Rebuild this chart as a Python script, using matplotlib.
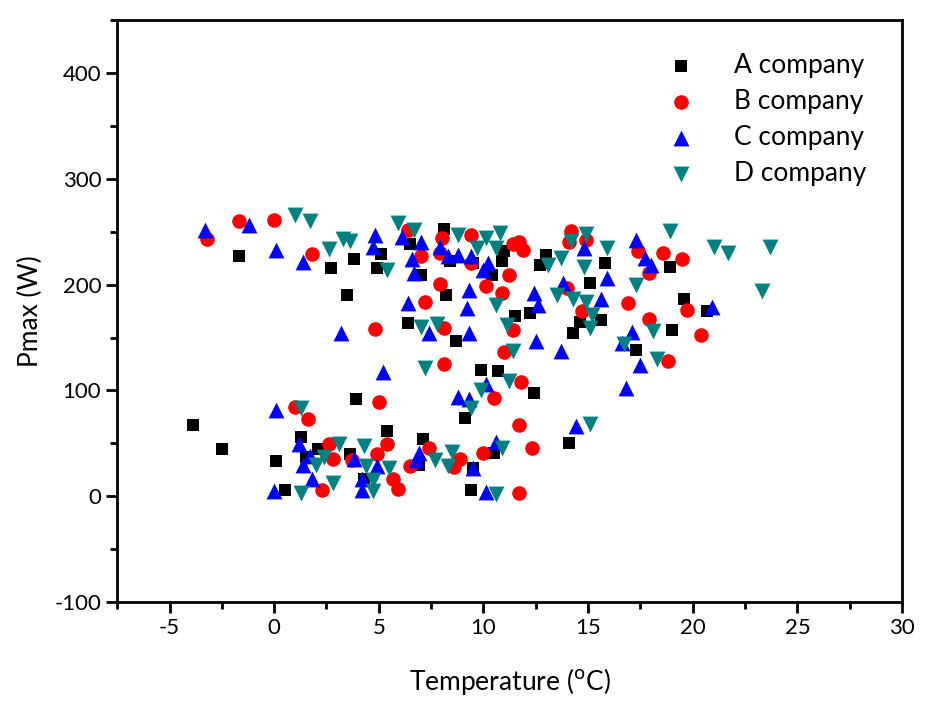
import matplotlib
matplotlib.use('Agg')
import matplotlib.pyplot as plt
from matplotlib.ticker import MultipleLocator

plt.rcParams['font.family'] = ['Lato', 'DejaVu Sans']
plt.rcParams['axes.unicode_minus'] = False

# A company (black squares)
a_temp = [-3.9, -2.5, 0.1, 0.5, 1.3, 1.5, 2.1, 3.6, 3.9, 4.3, 5.4, 7.1, 6.9, 9.1, 9.5,
          9.4, 10.5, 9.9, 10.7, 12.4, 14.1, 8.7, 6.4, 3.5, 8.2, 11.5, 12.2, 14.3, 14.6,
          15.6, 17.3, 19.0, 20.7, 19.6, 15.1, 15.8, 18.9, 12.7, 13.0, -1.7, 2.7, 3.8,
          4.9, 5.1, 6.5, 7.0, 8.1, 8.4, 9.5, 10.4, 10.9, 11.0]
a_pmax = [67, 45, 33, 6, 56, 37, 45, 40, 92, 16, 62, 54, 30, 74, 27,
          6, 41, 119, 118, 98, 50, 147, 164, 190, 190, 170, 173, 154, 165,
          167, 138, 157, 175, 186, 202, 220, 217, 219, 228, 227, 216, 224,
          216, 229, 238, 209, 253, 222, 220, 209, 222, 232]

# B company (red circles)
b_temp = [-3.2, -1.7, 0.0, 1.8, 1.0, 1.6, 2.6, 2.8, 2.3, 3.7, 4.9, 5.4, 5.0, 5.7, 5.9,
          6.5, 7.4, 8.6, 8.9, 10.0, 11.7, 12.3, 11.7, 10.5, 11.8, 11.0, 8.1, 4.8, 8.1,
          7.2, 7.9, 10.1, 10.9, 11.4, 11.2, 9.4, 7.0, 7.9, 6.4, 8.0, 9.4, 11.4, 11.7,
          11.9, 14.2, 14.1, 14.9, 14.0, 14.7, 16.9, 17.4, 17.9, 18.6, 19.5, 19.7, 17.9,
          18.8, 20.4]
b_pmax = [243, 260, 261, 229, 84, 73, 49, 35, 6, 34, 40, 49, 89, 16, 7,
          29, 46, 28, 35, 41, 3, 46, 67, 93, 108, 136, 125, 158, 159,
          184, 201, 199, 192, 157, 209, 220, 227, 230, 252, 244, 247, 238, 240,
          233, 251, 240, 242, 197, 175, 183, 232, 211, 230, 224, 176, 168,
          128, 152]

# C company (blue up-triangles)
c_temp = [-3.3, -1.2, 0.1, 1.4, 3.2, 0.1, 1.2, 1.7, 1.4, 1.8, 0.0, 3.8, 4.9, 4.2, 4.2,
          6.9, 6.8, 9.5, 10.1, 10.6, 8.8, 9.3, 10.1, 5.2, 9.3, 7.4, 6.4, 9.2, 9.3,
          12.4, 12.6, 12.5, 4.8, 4.7, 6.1, 7.0, 6.6, 6.7, 7.9, 8.3, 8.8, 9.4, 10.0,
          10.2, 13.8, 14.8, 15.9, 15.6, 17.3, 17.7, 18.0, 17.1, 16.6, 17.5, 16.8, 13.7,
          14.4, 20.9]
c_pmax = [252, 256, 233, 221, 154, 82, 49, 38, 30, 16, 5, 35, 29, 16, 6,
          41, 34, 27, 4, 51, 94, 92, 106, 117, 154, 154, 183, 178, 195,
          192, 181, 147, 247, 236, 245, 240, 224, 211, 236, 227, 228, 227, 214,
          220, 202, 235, 206, 186, 242, 225, 219, 155, 145, 124, 102, 137,
          66, 179]

# D company (teal down-triangles)
d_temp = [1.0, 1.7, 2.6, 3.3, 3.6, 5.4, 5.9, 6.7, 8.8, 9.7, 10.1, 10.8, 10.6, 13.1, 13.7,
          14.2, 14.9, 14.8, 15.9, 18.9, 21.0, 21.7, 23.7, 23.3, 17.3, 13.5, 14.3, 14.9,
          15.2, 15.1, 10.6, 11.1, 7.0, 7.8, 7.2, 11.4, 11.2, 9.9, 9.4, 16.7, 18.3, 18.1,
          15.1, 10.9, 1.3, 3.1, 2.4, 2.0, 2.8, 1.3, 4.3, 4.4, 5.5, 4.7, 4.7, 7.7, 8.5,
          8.3, 10.6]
d_pmax = [266, 260, 234, 243, 241, 214, 258, 252, 247, 235, 244, 249, 235, 219, 225,
          241, 248, 217, 235, 251, 236, 230, 236, 194, 200, 190, 186, 184,
          171, 159, 181, 162, 160, 163, 121, 137, 109, 100, 83, 144, 130, 156,
          68, 46, 83, 49, 37, 30, 13, 3, 48, 29, 27, 15, 5, 34, 42,
          29, 2]

fig = plt.figure(figsize=(9.3, 7.16), dpi=100)
ax = fig.add_axes([0.126, 0.159, 0.844, 0.813])

ax.scatter(a_temp, a_pmax, marker='s', s=85, color='black', label='A company', linewidths=0)
ax.scatter(b_temp, b_pmax, marker='o', s=110, color='red', label='B company', linewidths=0)
ax.scatter(c_temp, c_pmax, marker='^', s=130, color='blue', label='C company', linewidths=0)
ax.scatter(d_temp, d_pmax, marker='v', s=130, color='#008080', label='D company', linewidths=0)

ax.set_xlim(-7.5, 30)
ax.set_ylim(-100, 450)
ax.xaxis.set_major_locator(MultipleLocator(5))
ax.xaxis.set_minor_locator(MultipleLocator(2.5))
ax.yaxis.set_minor_locator(MultipleLocator(50))
ax.set_yticks([-100, 0, 100, 200, 300, 400])

for s in ax.spines.values():
    s.set_linewidth(2)
ax.tick_params(which='major', direction='out', length=8, width=2, labelsize=16, top=False, right=False)
ax.tick_params(which='minor', direction='out', length=5, width=2, top=False, right=False)

ax.set_xlabel('Temperature ($^{\\rm o}$C)', fontsize=19, labelpad=20)
ax.set_ylabel('Pmax (W)', fontsize=19, labelpad=8)

ax.legend(loc='upper right', bbox_to_anchor=(0.985, 0.985), frameon=False, fontsize=19,
          handletextpad=1.0, labelspacing=0.42, scatterpoints=1)

fig.savefig('out.png', dpi=100)
